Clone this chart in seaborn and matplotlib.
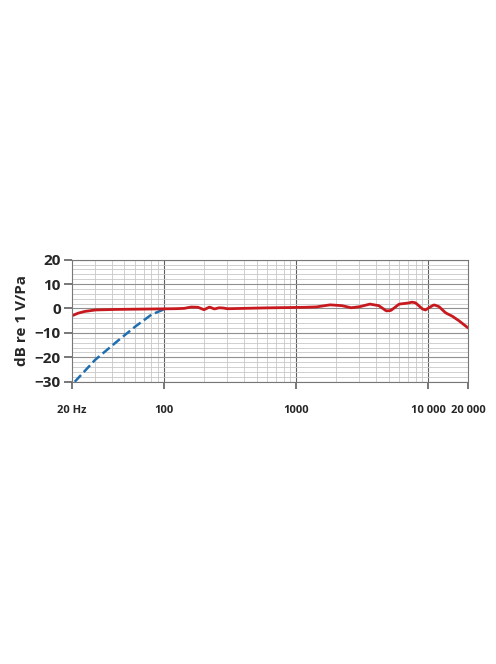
import numpy as np
import matplotlib
matplotlib.use("Agg")
import matplotlib.pyplot as plt
import seaborn as sns
from matplotlib.ticker import FixedLocator, NullFormatter, MultipleLocator

sns.set_theme(style="white")
plt.rcParams['font.family'] = ['Open Sans', 'DejaVu Sans']

freq = [20, 22, 25, 30, 40, 60, 100, 140, 160, 180, 200, 220, 240, 260, 280, 300, 500, 1000, 1400,
        1800, 2200, 2600, 3000, 3600, 4200, 4800, 5200, 6000, 7000, 7500, 8000, 9000, 9500, 10000, 11000,
        12000, 13500, 15000, 17000, 20000]
resp = [-3, -2, -1.2, -0.6, -0.4, -0.3, -0.2, 0, 0.6, 0.5, -0.5, 0.6, -0.2, 0.3, 0.2, -0.1, 0.2, 0.4, 0.6,
        1.5, 1.2, 0.3, 0.7, 1.8, 1.2, -1.0, -0.8, 1.8, 2.2, 2.6, 2.3, -0.2, -0.6, 0.2, 1.5, 0.8, -1.8, -3, -5, -8]
hp_freq = [21, 30, 45, 60, 80, 100]
hp_resp = [-30, -21, -13, -7.5, -2.5, -0.3]

fig = plt.figure(figsize=(4.96, 6.64), dpi=100)
ax = fig.add_axes([0.145, 0.425, 0.799, 0.184])
fx = np.logspace(np.log10(20), np.log10(20000), 400)
fy = np.interp(np.log10(fx), np.log10(freq), resp)
import pandas as pd
sns.lineplot(x=hp_freq, y=hp_resp, ax=ax, color='#1f6fb0', lw=1.8, linestyle='--')
sns.lineplot(x=fx, y=fy, ax=ax, color='#c8191e', lw=2)
ax.set_xscale('log')
ax.set_xlim(20, 20000)
ax.set_ylim(-30, 20)
ax.yaxis.set_major_locator(MultipleLocator(10))
ax.yaxis.set_minor_locator(MultipleLocator(2))
ax.xaxis.set_major_locator(FixedLocator([20, 100, 1000, 10000, 20000]))
ax.set_xticklabels(['20 Hz', '100', '1000', '10 000', '20 000'], fontsize=8, fontweight='bold')
minors = [m * d for d in (10, 100, 1000) for m in range(2, 10)] + [10000 * m for m in range(1, 2)]
ax.xaxis.set_minor_locator(FixedLocator([v for v in minors if 20 < v < 20000 and v not in (100, 1000, 10000)]))
ax.xaxis.set_minor_formatter(NullFormatter())
ax.grid(which='minor', color='#c8c8c8', lw=0.6)
ax.grid(which='major', axis='y', color='#909090', lw=0.8)
for v in (100, 1000, 10000):
    ax.axvline(v, color='#606060', lw=0.8, zorder=0.5)
for lbl in ax.get_yticklabels():
    lbl.set_fontweight('bold'); lbl.set_fontsize(11)
ax.tick_params(axis='y', which='major', left=True, length=6, color='#666', pad=2)
ax.tick_params(axis='x', which='major', bottom=True, length=5, color='#666', pad=12)
ax.set_ylabel('dB re 1 V/Pa', fontsize=11, fontweight='bold')
for s in ax.spines.values():
    s.set_color('#777'); s.set_linewidth(0.8)
fig.savefig('out.png', dpi=100, facecolor='white')
